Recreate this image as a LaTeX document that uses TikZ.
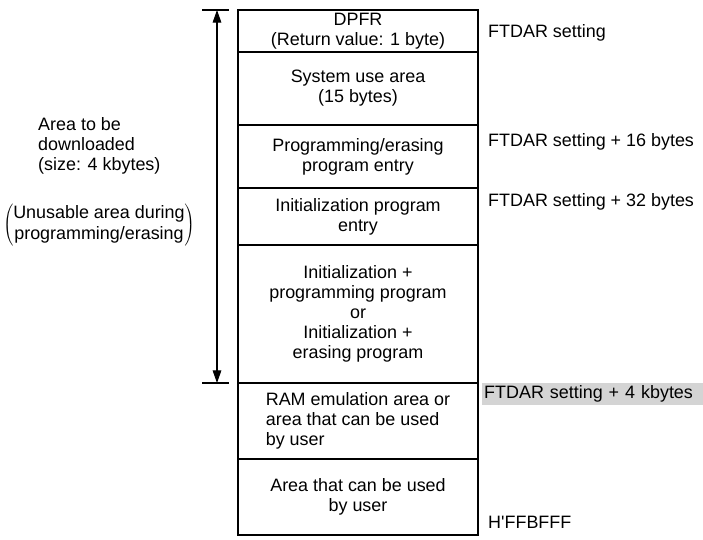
\documentclass[tikz,border=0pt]{standalone}
\usepackage{fontspec}
\setmainfont{Liberation Sans}
\usetikzlibrary{arrows.meta}

\begin{document}
\begin{tikzpicture}[x=0.03cm,y=-0.03cm,>={Triangle[length=3.8mm,width=2.6mm]},
  font=\fontsize{15.3}{17.2}\selectfont,line cap=rect,
  seg/.style={draw,line width=2.2pt,minimum width=7.2cm,inner sep=0pt,align=center},
  addr/.style={anchor=west,inner sep=0pt}]
\useasboundingbox (0,0) rectangle (703,540);
% memory segments
\node[seg,minimum height=1.26cm] (dpfr) at (358,31) {DPFR\\(Return value: 1 byte)};
\node[seg,minimum height=2.19cm] (sysuse) at (358,88.5) {System use area\\(15 bytes)};
\node[seg,minimum height=1.89cm] (progent) at (358,156.5) {Programming/erasing\\program entry};
\node[seg,minimum height=1.71cm] (initent) at (358,216.5) {Initialization program\\entry};
\node[seg,minimum height=4.14cm] (prog) at (358,314) {Initialization +\\programming program\\or\\Initialization +\\erasing program};
\node[seg,minimum height=2.28cm,align=left] (ram) at (358,421) {RAM emulation area or\\area that can be used\\by user};
\node[seg,minimum height=2.28cm] (user) at (358,497) {Area that can be used\\by user};
% addresses
\node[addr] (a0) at (488,33) {FTDAR setting};
\node[addr] (a16) at (488,142) {FTDAR setting + 16 bytes};
\node[addr] (a32) at (488,202) {FTDAR setting + 32 bytes};
\node[anchor=west,inner sep=0pt,fill=black!17,minimum width=6.63cm,minimum height=0.66cm,
  text width=6.51cm,align=left] (a4k) at (482,393.5) {FTDAR setting + 4 kbytes};
\node[addr] (aend) at (488,522) {H\textquotesingle FFBFFF};
% download range
\coordinate (atop) at (217,10);
\coordinate (abot) at (217,383);
\draw[line width=0.9pt] (atop) ++(-14,0) -- ++(25,0);
\draw[line width=0.9pt] (abot) ++(-14,0) -- ++(25,0);
\draw[<->,line width=0.9pt] (atop) -- (abot);
\node[anchor=west,align=left,inner sep=0pt] (dlarea) at (38,146) {Area to be\\downloaded\\(size: 4 kbytes)};
\node[inner sep=0pt] (unusable) at (99,225)
  {$\left(\mbox{\begin{tabular}{@{}c@{}}Unusable area during\\programming/erasing\end{tabular}}\right)$};
\end{tikzpicture}
\end{document}
